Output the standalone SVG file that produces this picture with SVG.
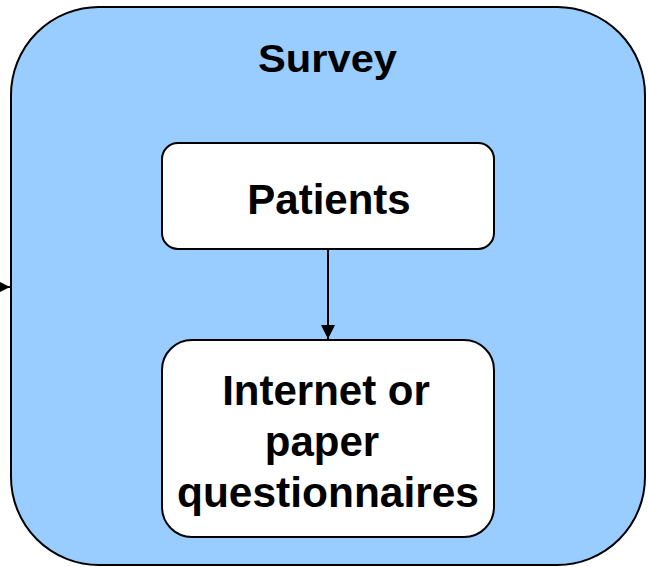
<svg xmlns="http://www.w3.org/2000/svg" width="648" height="567" viewBox="0 0 648 567">
<style>
.box{fill:#ffffff;stroke:#000000;stroke-width:2}
.t{font-family:"Liberation Sans",Arial,sans-serif;font-weight:bold;font-size:42px;fill:#000000;text-anchor:middle}
.edge{stroke:#000000;stroke-width:2;fill:none}
</style>
<defs>
<marker id="ah2" viewBox="0 0 10 10" refX="10" refY="5" markerWidth="14" markerHeight="14" markerUnits="userSpaceOnUse" orient="auto">
<path d="M0,0 L10,5 L0,10 z" fill="#000000"/>
</marker>
</defs>
<g id="survey">
<rect x="11" y="7" width="634" height="558" rx="88" ry="88" fill="#99ccff" stroke="#000000" stroke-width="2"/>
<text class="t" x="327.5" y="72" style="font-size:39px" textLength="139" lengthAdjust="spacingAndGlyphs">Survey</text>
</g>
<g id="patients">
<rect class="box" x="162" y="143" width="332" height="106" rx="16" ry="16"/>
<text class="t" x="329" y="214">Patients</text>
</g>
<g id="questionnaires">
<rect class="box" x="162" y="340" width="332" height="197" rx="30" ry="30"/>
<text class="t" x="326" y="405">Internet or</text>
<text class="t" x="322" y="456">paper</text>
<text class="t" x="328" y="507" textLength="302" lengthAdjust="spacingAndGlyphs">questionnaires</text>
</g>
<g id="connectors">
<line class="edge" x1="328" y1="249" x2="328" y2="339" marker-end="url(#ah2)"/>
<line class="edge" x1="-20" y1="287" x2="10" y2="287" marker-end="url(#ah2)"/>
</g>
</svg>
